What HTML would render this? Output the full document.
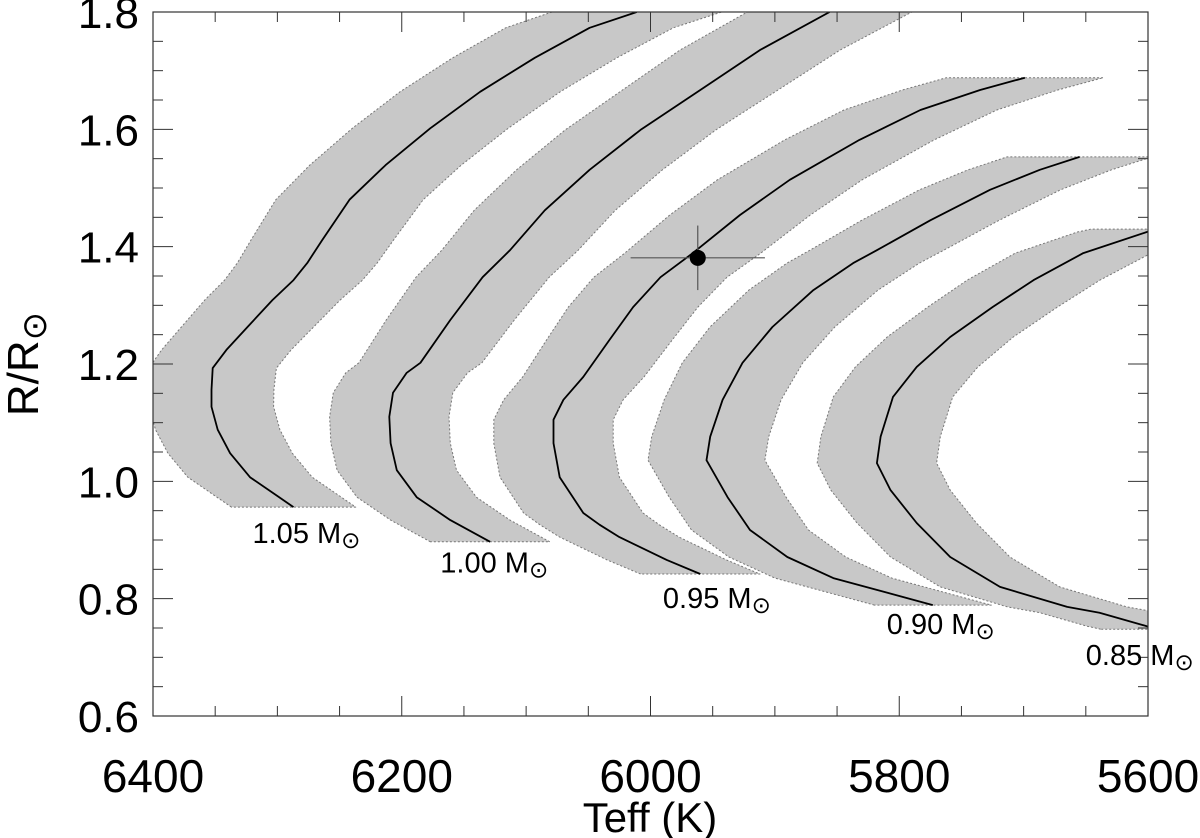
<!DOCTYPE html>
<html><head><meta charset="utf-8"><style>
body{margin:0;background:#fff;}
svg{display:block;font-family:"Liberation Sans","DejaVu Sans",sans-serif;}
</style></head><body>
<svg id="chart" width="1200" height="838" viewBox="0 0 1200 838" xmlns="http://www.w3.org/2000/svg">
<defs><clipPath id="plotclip"><rect x="153" y="12" width="995" height="704"/></clipPath></defs>
<g id="bands" clip-path="url(#plotclip)"></g>
<g id="lines" clip-path="url(#plotclip)"></g>
<g id="axes"></g>
<g id="labels"></g>
<g id="point"></g>
</svg>
<script>
const xTicks = [6400, 6200, 6000, 5800, 5600];
const yTicks = [0.6, 0.8, 1.0, 1.2, 1.4, 1.6, 1.8];
const trackNames = ["1.05", "1.00", "0.95", "0.90", "0.85"];
const trackWidthK = [50, 48, 48, 47, 48];
const t105T = [6287,6300,6322,6338,6348,6353,6353,6352,6341,6324,6304,6287,6276,6264,6242,6213,6177,6137,6093,6049,6011];
const t105R = [0.956,0.975,1.007,1.048,1.088,1.127,1.156,1.193,1.224,1.263,1.309,1.343,1.372,1.411,1.480,1.539,1.602,1.664,1.722,1.773,1.800];
const t100T = [6129,6161,6188,6204,6209,6210,6207,6196,6185,6161,6135,6113,6085,6049,6008,5960,5912,5856];
const t100R = [0.897,0.934,0.973,1.019,1.065,1.110,1.151,1.185,1.202,1.275,1.348,1.394,1.462,1.531,1.599,1.667,1.735,1.800];
const t095T = [5960,5987,6025,6041,6054,6073,6078,6078,6070,6054,6033,6014,5992,5966,5928,5888,5832,5783,5735,5699];
const t095R = [0.842,0.866,0.905,0.926,0.946,1.007,1.065,1.105,1.139,1.178,1.241,1.297,1.348,1.389,1.454,1.514,1.582,1.633,1.667,1.688];
const t090T = [5773,5853,5890,5920,5938,5955,5952,5942,5926,5902,5869,5837,5818,5775,5727,5687,5655];
const t090R = [0.789,0.835,0.871,0.917,0.973,1.036,1.076,1.139,1.202,1.263,1.326,1.372,1.394,1.445,1.497,1.531,1.553];
const t085T = [5590,5601,5639,5665,5719,5759,5786,5807,5818,5815,5805,5786,5759,5725,5692,5652,5601,5590];
const t085R = [0.748,0.753,0.776,0.786,0.820,0.871,0.929,0.985,1.031,1.076,1.144,1.195,1.246,1.297,1.343,1.389,1.425,1.430];
const labelT = [6320, 6169, 5990, 5810, 5650];
const labelR = [0.895, 0.845, 0.784, 0.740, 0.687];
const starT = [5962];
const starR = [1.381];
const starErrT = [54];
const starErrR = [0.055];

const X0=153, X1=1148, Y0=716, Y1=12;
function xs(t){return X0 + (6400 - t) / 800 * (X1 - X0);}
function ys(r){return Y0 - (r - 0.6) / 1.2 * (Y0 - Y1);}
function widen(w, r){return w + 28 * Math.max(0, r - 1.15);}
const NS="http://www.w3.org/2000/svg";
function mk(tag, attrs, parent){const e=document.createElementNS(NS,tag);for(const k in attrs)e.setAttribute(k,attrs[k]);parent.appendChild(e);return e;}

const tracksT=[t105T,t100T,t095T,t090T,t085T];
const tracksR=[t105R,t100R,t095R,t090R,t085R];
const gB=document.getElementById('bands'), gL=document.getElementById('lines'), gA=document.getElementById('axes'), gLab=document.getElementById('labels'), gP=document.getElementById('point');

tracksT.forEach((T,i)=>{
  const R=tracksR[i], w=trackWidthK[i];
  const left=T.map((t,j)=>[xs(t+widen(w,R[j])),ys(R[j])]);
  const right=T.map((t,j)=>[xs(t-widen(w,R[j])),ys(R[j])]).reverse();
  const pts=left.concat(right).map(p=>p[0].toFixed(1)+','+p[1].toFixed(1)).join(' ');
  const poly=mk('polygon',{points:pts,fill:'#c8c8c8',stroke:'#777','stroke-width':1,'stroke-dasharray':'2,2','stroke-linejoin':'round'},gB);
  
  
  const lp=T.map((t,j)=>xs(t).toFixed(1)+','+ys(R[j]).toFixed(1)).join(' ');
  const line=mk('polyline',{points:lp,fill:'none',stroke:'#000','stroke-width':1.8,'stroke-linejoin':'round'},gL);
  
  
  const tx=mk('text',{x:xs(labelT[i]).toFixed(1),y:ys(labelR[i]).toFixed(1),'font-size':29,fill:'#000'},gLab);
  
  
  tx.innerHTML=trackNames[i]+' M<tspan font-size="23" dy="5" font-family="DejaVu Sans">⊙</tspan>';
});

const frame=mk('rect',{x:X0,y:Y1,width:X1-X0,height:Y0-Y1,fill:'none',stroke:'#333','stroke-width':1.2},gA);


for(let t=6400;t>=5600;t-=50){
  const x=xs(t), major=(t%200===0), L=major?20:10;
  mk('line',{x1:x,y1:Y0,x2:x,y2:Y0-L,stroke:'#333','stroke-width':1},gA);
  mk('line',{x1:x,y1:Y1,x2:x,y2:Y1+L,stroke:'#333','stroke-width':1},gA);
}
xTicks.forEach(t=>{
  const e=mk('text',{x:xs(t),y:792,'font-size':46,'text-anchor':'middle',fill:'#000'},gA);
  
  
  e.textContent=String(t);
});
for(let k=0;k<=24;k++){
  const r=0.6+k*0.05, y=ys(r), major=(k%4===0), L=major?20:10;
  mk('line',{x1:X0,y1:y,x2:X0+L,y2:y,stroke:'#333','stroke-width':1},gA);
  mk('line',{x1:X1,y1:y,x2:X1-L,y2:y,stroke:'#333','stroke-width':1},gA);
}
yTicks.forEach(r=>{
  const e=mk('text',{x:139,y:ys(r)+16,'font-size':44,'text-anchor':'end',fill:'#000'},gA);
  
  
  e.textContent=r.toFixed(1);
});
const xt=mk('text',{x:650,y:832,'font-size':42,'text-anchor':'middle',fill:'#000'},gA);


xt.textContent='Teff (K)';
const yt=mk('text',{x:0,y:0,'font-size':44,'text-anchor':'middle',fill:'#000',transform:'translate(38,364) rotate(-90)'},gA);


yt.innerHTML='R/R<tspan font-size="34" dy="8" font-family="DejaVu Sans">⊙</tspan>';

starT.forEach((t,i)=>{
  const x=xs(t), y=ys(starR[i]);
  const eh=mk('line',{x1:xs(t+starErrT[i]),y1:y,x2:xs(t-starErrT[i]),y2:y,stroke:'#555','stroke-width':1.2},gP);
  
  
  const ev=mk('line',{x1:x,y1:ys(starR[i]+starErrR[i]),x2:x,y2:ys(starR[i]-starErrR[i]),stroke:'#555','stroke-width':1.2},gP);
  
  
  const c=mk('circle',{cx:x,cy:y,r:8,fill:'#000'},gP);
  
  
});
</script>
</body></html>
